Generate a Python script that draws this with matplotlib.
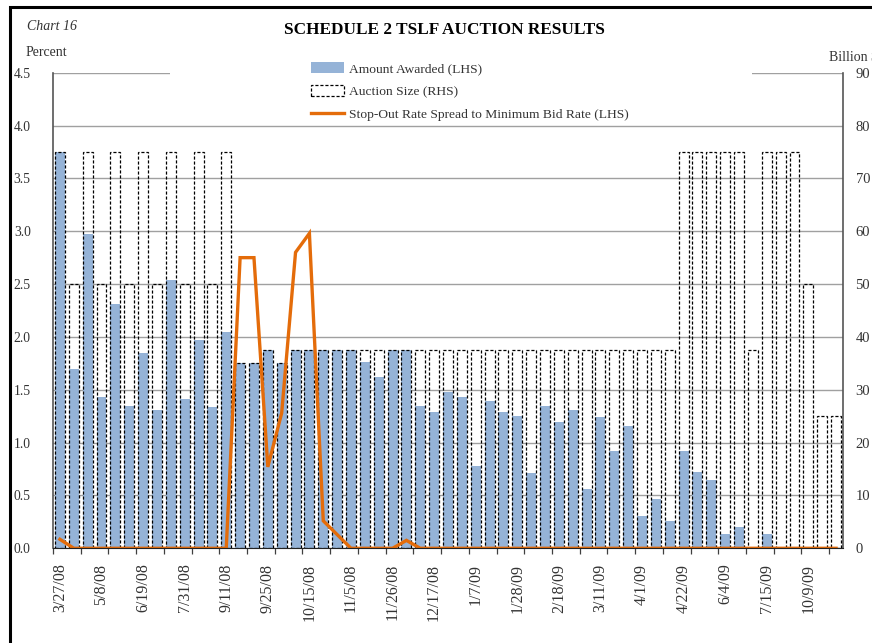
import matplotlib
matplotlib.use('Agg')
import matplotlib.pyplot as plt
from matplotlib.patches import Rectangle, Patch
from matplotlib.lines import Line2D
import numpy as np

# auction dates (only every third one is labelled on the chart)
dates = ['3/27/08', '4/10/08', '4/24/08', '5/8/08', '5/22/08', '6/5/08', '6/19/08',
         '7/2/08', '7/17/08', '7/31/08', '8/14/08', '8/28/08', '9/11/08', '9/17/08',
         '9/22/08', '9/25/08', '10/1/08', '10/8/08', '10/15/08', '10/22/08', '10/29/08',
         '11/5/08', '11/12/08', '11/19/08', '11/26/08', '12/3/08', '12/10/08', '12/17/08',
         '12/23/08', '12/30/08', '1/7/09', '1/14/09', '1/21/09', '1/28/09', '2/4/09',
         '2/11/09', '2/18/09', '2/25/09', '3/4/09', '3/11/09', '3/18/09', '3/25/09',
         '4/1/09', '4/8/09', '4/15/09', '4/22/09', '5/6/09', '5/20/09', '6/4/09',
         '6/17/09', '7/1/09', '7/15/09', '8/12/09', '9/10/09', '10/9/09', '11/12/09',
         '12/10/09']

# billions of dollars
auction_size = [75, 50, 75, 50, 75, 50, 75, 50, 75, 50, 75, 50, 75,
                35, 35, 37.5, 35] + [37.5] * 28 + [75, 75, 75, 75, 75, 37.5, 75, 75, 75, 50, 25, 25]
amount_awarded = [75, 34.0, 59.5, 28.7, 46.2, 26.9, 37.0, 26.1, 50.7, 28.2, 39.4, 26.7, 40.9,
                  35, 35, 37.5, 35, 37.5, 37.5, 37.5, 37.5, 37.5, 35.2, 32.4, 37.5, 37.5,
                  26.9, 25.8, 29.6, 28.7, 15.6, 27.9, 25.8, 25.0, 14.2, 26.9, 23.9, 26.1,
                  11.2, 24.8, 18.4, 23.2, 6.2, 9.4, 5.2, 18.4, 14.4, 13.0, 2.7, 4.0,
                  0, 2.7, 0, 0, 0, 0, 0]
# percent
spread = [0.085] + [0] * 12 + [2.75, 2.75, 0.77, 1.28, 2.80, 2.98, 0.26, 0.13,
                               0, 0, 0, 0, 0.075] + [0] * 31

serif = ['Liberation Serif', 'DejaVu Serif']
plt.rcParams['font.family'] = serif

blue = '#95B3D7'
orange = '#E46C0A'
txt = '#333333'

fig = plt.figure(figsize=(8.72, 6.43), dpi=100)
W, H = 872, 643

ax = fig.add_axes([53 / W, 1 - 548.3 / H, 790 / W, (548.3 - 72.7) / H])
ax2 = ax.twinx()
ax.set_zorder(ax2.get_zorder() + 1)
ax.patch.set_visible(False)

x = np.arange(len(dates))

# bars on the billion-dollar scale
ax2.bar(x, amount_awarded, width=0.72, color=blue, edgecolor='none', zorder=2)
ax2.bar(x, auction_size, width=0.72, facecolor='none', edgecolor='black',
        linewidth=0.9, linestyle=(0, (2.5, 1.5)), zorder=3)
ax2.set_ylim(0, 90)
ax2.set_yticks(np.arange(0, 91, 10))
ax2.grid(axis='y', color='#a0a0a0', linewidth=1.0)
ax2.set_axisbelow(True)

ax.plot(x, spread, color=orange, linewidth=2.4, solid_joinstyle='miter')
ax.set_ylim(0, 4.5)
ax.set_yticks(np.arange(0, 4.51, 0.5))
ax.set_yticklabels([f'{v:.1f}' for v in np.arange(0, 4.51, 0.5)])
ax.set_xlim(-0.5, len(dates) - 0.5)

ax.set_xticks(x[::3])
ax.set_xticklabels(dates[::3], rotation=90, fontsize=11.5, color=txt)
ax.set_xticks(np.arange(-0.5, len(dates), 2), minor=True)
ax.tick_params(axis='x', which='major', length=0, pad=11)
ax.tick_params(axis='x', which='minor', length=4, width=0.9, color='#404040', direction='out')
ax.tick_params(axis='y', length=0, pad=16, labelsize=9.8, labelcolor=txt)
ax2.tick_params(axis='y', length=0, pad=9, labelsize=10.5, labelcolor=txt)

for a in (ax, ax2):
    a.spines['top'].set_visible(False)
ax.spines['right'].set_visible(False)
ax2.spines['left'].set_visible(False)
ax2.spines['bottom'].set_visible(False)
ax.spines['left'].set_color('#555555')
ax.spines['bottom'].set_color('#222222')
ax2.spines['right'].set_color('#555555')
ax.spines['left'].set_linewidth(1.2)
ax2.spines['right'].set_linewidth(1.2)

# white band behind the legend, hiding part of the top gridline
fig.patches.append(Rectangle((170 / W, 1 - 121 / H), 582 / W, 63 / H,
                             transform=fig.transFigure, facecolor='white',
                             edgecolor='none', zorder=1))

handles = [Patch(facecolor=blue, edgecolor='none'),
           Patch(facecolor='none', edgecolor='black', linestyle=(0, (2.5, 1.5)), linewidth=0.9),
           Line2D([0], [0], color=orange, linewidth=2.4)]
labels = ['Amount Awarded (LHS)', 'Auction Size (RHS)',
          'Stop-Out Rate Spread to Minimum Bid Rate (LHS)']
leg = fig.legend(handles, labels, loc='upper left', bbox_to_anchor=(304 / W, 1 - 55 / H),
                 frameon=False, fontsize=9.7, handlelength=2.5, handleheight=0.9,
                 handletextpad=0.35, labelspacing=0.72, borderpad=0)
for t in leg.get_texts():
    t.set_color(txt)
leg.set_zorder(5)

fig.text(444 / W, 1 - 30 / H, 'SCHEDULE 2 TSLF AUCTION RESULTS', ha='center', va='center',
         fontsize=12.4, fontweight='bold')
fig.text(27 / W, 1 - 27 / H, 'Chart 16', ha='left', va='center', fontsize=10,
         style='italic', color=txt)
fig.text(26 / W, 1 - 53 / H, 'Percent', ha='left', va='center', fontsize=10, color=txt)
fig.text(829 / W, 1 - 58 / H, 'Billion $', ha='left', va='center', fontsize=10, color=txt)

# outer frame
fig.patches.append(Rectangle((10 / W, -0.1), 1.2, 1 - 6.5 / H + 0.1, transform=fig.transFigure,
                             facecolor='none', edgecolor='black', linewidth=2.2, zorder=0))

fig.savefig('out.png', dpi=100)
